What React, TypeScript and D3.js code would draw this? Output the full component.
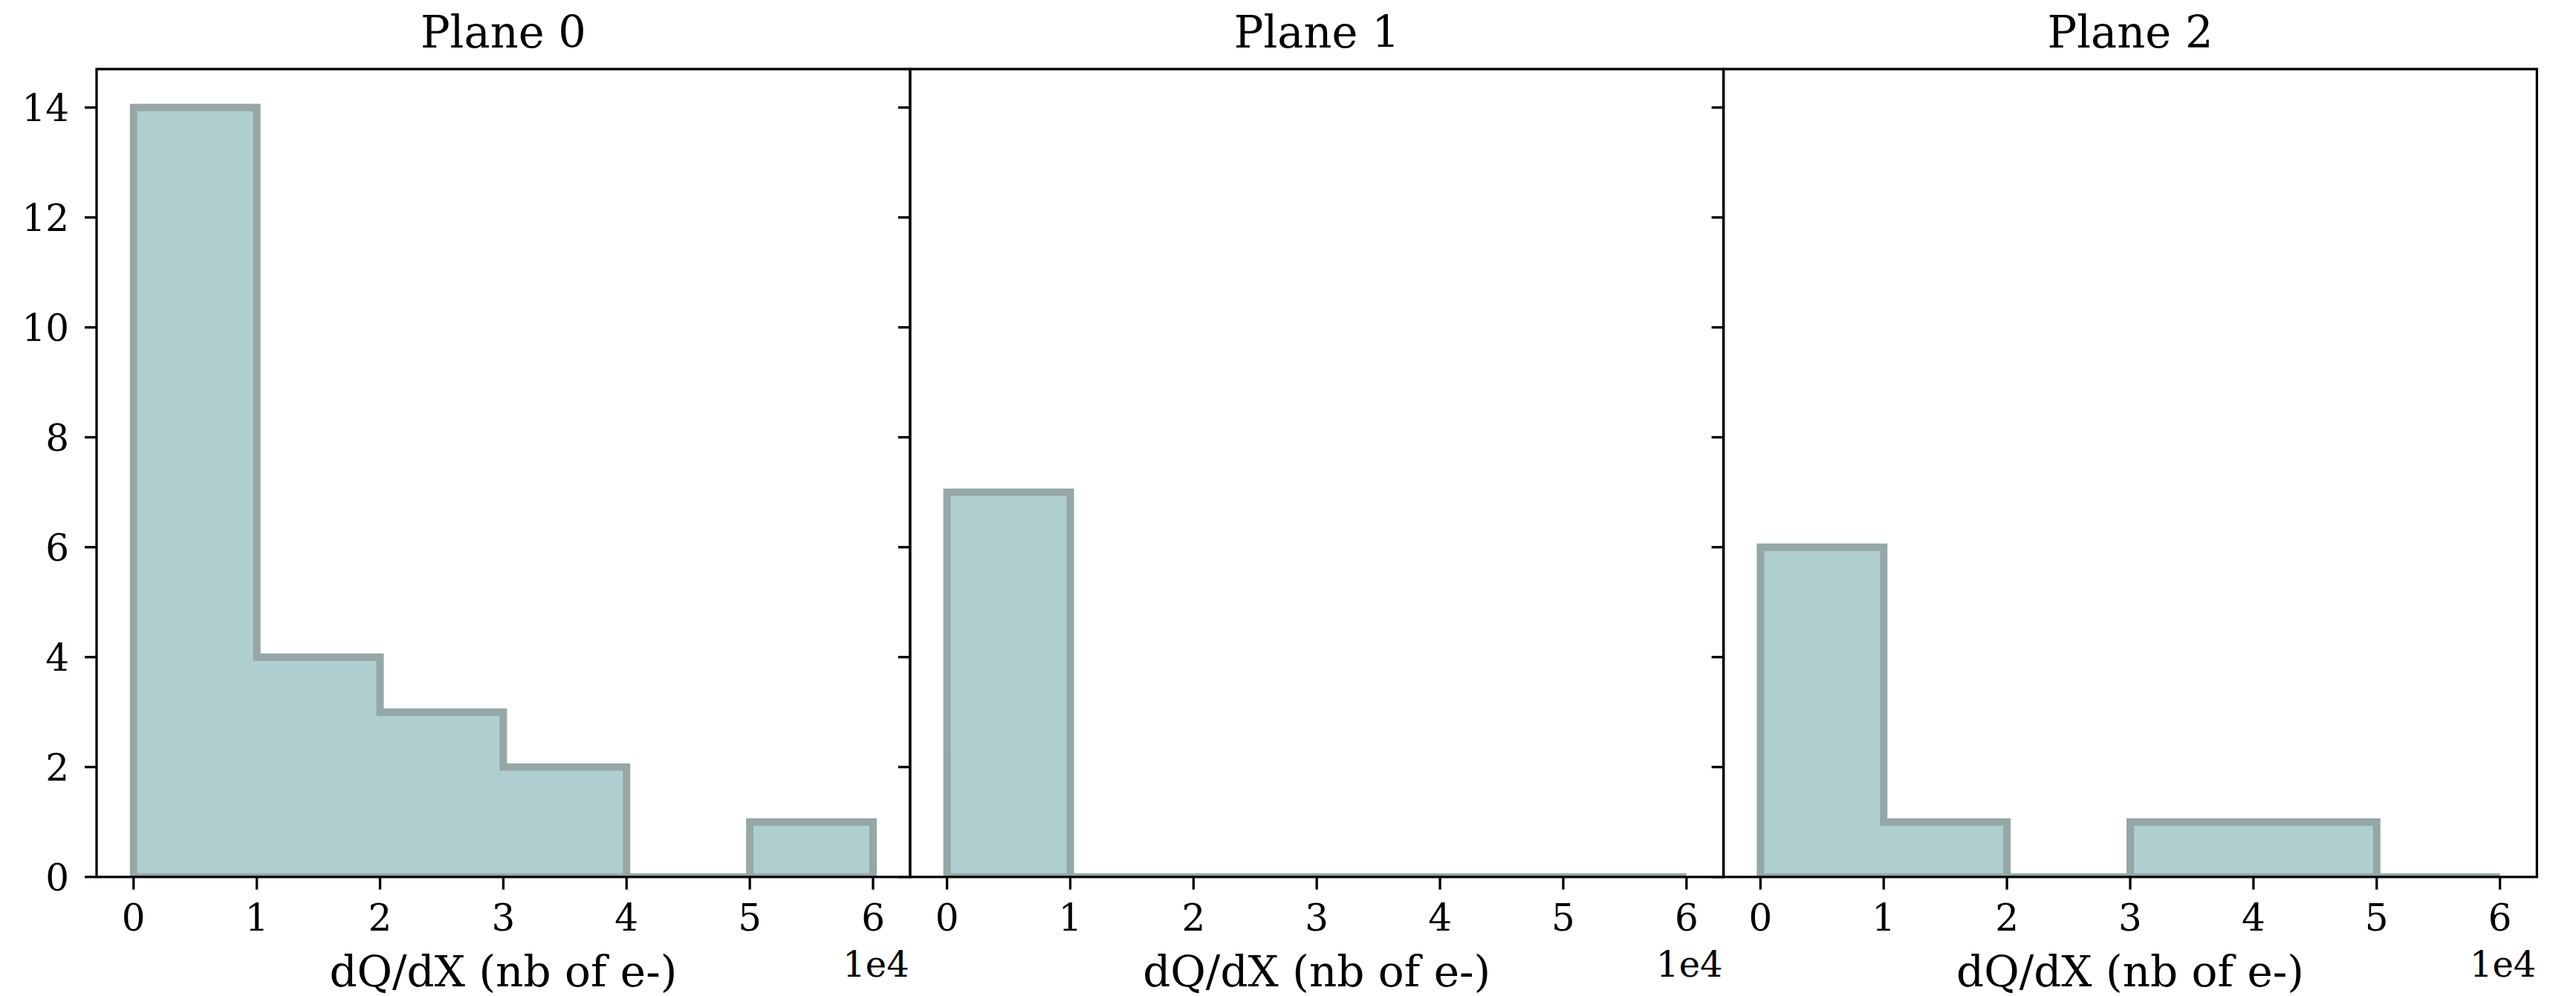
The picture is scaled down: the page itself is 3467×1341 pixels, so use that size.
import React from "react";
import * as d3 from "d3";

const titles = ["Plane 0", "Plane 1", "Plane 2"];
const binEdges = [0, 1, 2, 3, 4, 5, 6];
const countsPlane0 = [14, 4, 3, 2, 0, 1];
const countsPlane1 = [7, 0, 0, 0, 0, 0];
const countsPlane2 = [6, 1, 0, 1, 1, 0];
const panelCounts = [countsPlane0, countsPlane1, countsPlane2];
const xTicks = [0, 1, 2, 3, 4, 5, 6];
const yTicks = [0, 2, 4, 6, 8, 10, 12, 14];
const xLabel = "dQ/dX (nb of e-)";
const offsetText = "1e4";

const W = 3467;
const H = 1341;
const left = 130;
const top = 93;
const bottom = 1180.7;
const panelW = 1094.8;
const FONT = "'DejaVu Serif', serif";
const fillColor = "#afced0";
const edgeColor = "#95a7a6";

export default function App() {
  const y = d3.scaleLinear().domain([0, 14.7]).range([bottom, top]);
  return (
    <svg
      width={W}
      height={H}
      style={{ position: "absolute", left: 0, top: 0, background: "#fff" }}
    >
      {panelCounts.map((counts, p) => {
        const x0 = left + p * panelW;
        const x = d3.scaleLinear().domain([-0.3, 6.3]).range([x0, x0 + panelW]);
        const pts: [number, number][] = [[binEdges[0], 0]];
        counts.forEach((c, i) => {
          pts.push([binEdges[i], c]);
          pts.push([binEdges[i + 1], c]);
        });
        pts.push([binEdges[binEdges.length - 1], 0]);
        const path =
          d3
            .line<[number, number]>()
            .x((d) => x(d[0]))
            .y((d) => y(d[1]))(pts) + "Z";
        const clipId = `clip${p}`;
        return (
          <g key={p}>
            <defs>
              <clipPath id={clipId}>
                <rect x={x0} y={top} width={panelW} height={bottom - top} />
              </clipPath>
            </defs>
            <path
              d={path}
              fill={fillColor}
              stroke={edgeColor}
              strokeWidth={10}
              strokeLinejoin="miter"
              clipPath={`url(#${clipId})`}
            />
            {yTicks.map((t) => (
              <g key={t}>
                <line
                  x1={x0 - 16}
                  x2={x0}
                  y1={y(t)}
                  y2={y(t)}
                  stroke="#000"
                  strokeWidth={3.3}
                />
                {p === 0 && (
                  <text
                    x={x0 - 37}
                    y={y(t)}
                    dy="0.36em"
                    textAnchor="end"
                    fontFamily={FONT}
                    fontSize={50}
                    fill="#000"
                  >
                    {t}
                  </text>
                )}
              </g>
            ))}
            {xTicks.map((t) => (
              <g key={t}>
                <line
                  x1={x(t)}
                  x2={x(t)}
                  y1={bottom}
                  y2={bottom + 17}
                  stroke="#000"
                  strokeWidth={3.3}
                />
                <text
                  x={x(t)}
                  y={1253}
                  textAnchor="middle"
                  fontFamily={FONT}
                  fontSize={50}
                  fill="#000"
                >
                  {t}
                </text>
              </g>
            ))}
            <rect
              x={x0}
              y={top}
              width={panelW}
              height={bottom - top}
              fill="none"
              stroke="#000"
              strokeWidth={3.3}
            />
            <text
              x={x0 + panelW / 2}
              y={64}
              textAnchor="middle"
              fontFamily={FONT}
              fontSize={59}
              fill="#000"
            >
              {titles[p]}
            </text>
            <text
              x={x0 + panelW / 2}
              y={1328}
              textAnchor="middle"
              fontFamily={FONT}
              fontSize={58}
              fill="#000"
            >
              {xLabel}
            </text>
            <text
              x={x0 + panelW - 1}
              y={1315}
              textAnchor="end"
              fontFamily={FONT}
              fontSize={48}
              fill="#000"
            >
              {offsetText}
            </text>
          </g>
        );
      })}
    </svg>
  );
}
